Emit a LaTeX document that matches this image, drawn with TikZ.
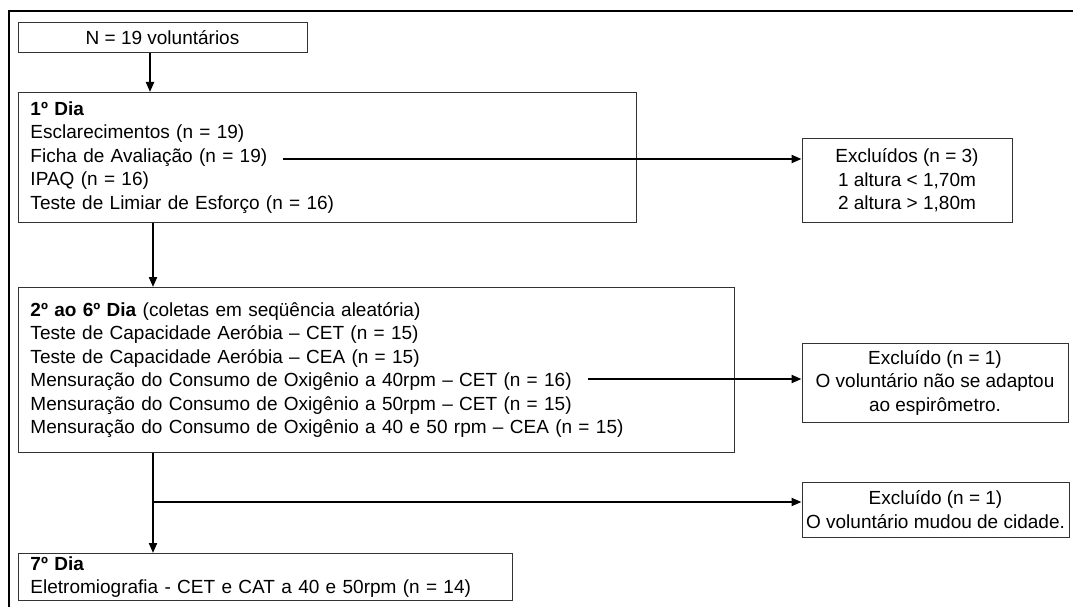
\documentclass[tikz,border=0pt]{standalone}
\usepackage{fontspec}
\setmainfont{Liberation Sans}
\usepackage{tikz}
\usetikzlibrary{arrows.meta,positioning,calc}

\tikzset{
  caixa/.style={draw=black!80, line width=1pt, inner sep=0pt, font=\fontsize{19}{23.5}\selectfont},
  diabox/.style={caixa, anchor=north west, align=left, inner xsep=12pt},
  exclbox/.style={caixa, align=center},
  seta/.style={->, >={Triangle[length=10pt,width=8pt]}, line width=2pt, black},
}

\begin{document}
\begin{tikzpicture}[x=1pt,y=-1pt]
\useasboundingbox (0,0) rectangle (1073,607);
% moldura
\draw[line width=2.5pt] (9,607) -- (9,11) -- (1073,11);
% caixas
\node[caixa, minimum width=289, minimum height=30] (total) at (162.5,38) {N = 19 voluntários};
\node[diabox, minimum width=618, minimum height=130, text width=594] (dia1) at (18,92)
  {\textbf{1º Dia}\\Esclarecimentos (n = 19)\\Ficha de Avaliação (n = 19)\\IPAQ (n = 16)\\Teste de Limiar de Esforço (n = 16)};
\node[diabox, minimum width=716, minimum height=165, text width=692] (dia2) at (18,287)
  {\textbf{2º ao 6º Dia} (coletas em seqüência aleatória)\\Teste de Capacidade Aeróbia – CET (n = 15)\\Teste de Capacidade Aeróbia – CEA (n = 15)\\Mensuração do Consumo de Oxigênio a 40rpm – CET (n = 16)\\Mensuração do Consumo de Oxigênio a 50rpm – CET (n = 15)\\Mensuração do Consumo de Oxigênio a 40 e 50 rpm – CEA (n = 15)};
\node[diabox, minimum width=494, minimum height=47, text width=470] (dia7) at (18,553)
  {\textbf{7º Dia}\\Eletromiografia - CET e CAT a 40 e 50rpm (n = 14)};
\node[exclbox, minimum width=210, minimum height=83] (excl1) at (907,180.5)
  {Excluídos (n = 3)\\1 altura < 1,70m\\2 altura > 1,80m};
\node[exclbox, minimum width=266, minimum height=79] (excl2) at (935,382.5)
  {Excluído (n = 1)\\O voluntário não se adaptou\\ao espirômetro.};
\node[exclbox, minimum width=267, minimum height=55] (excl3) at (935.5,509.5)
  {Excluído (n = 1)\\O voluntário mudou de cidade.};
% pontos de partida
\coordinate (eixo) at (153,0);
\coordinate (ficha) at (283,159);
\coordinate (cons40) at (588,379);
\coordinate (ramo) at (153,502);
% setas
\draw[seta] (total.south -| 150,0) -- (dia1.north -| 150,0);
\draw[seta] (dia1.south -| eixo) -- (dia2.north -| eixo);
\draw[seta] (dia2.south -| eixo) -- (dia7.north -| eixo);
\draw[seta] (ficha) -- (ficha -| excl1.west);
\draw[seta] (cons40) -- (cons40 -| excl2.west);
\draw[seta] (ramo) -- (ramo -| excl3.west);
\end{tikzpicture}
\end{document}
